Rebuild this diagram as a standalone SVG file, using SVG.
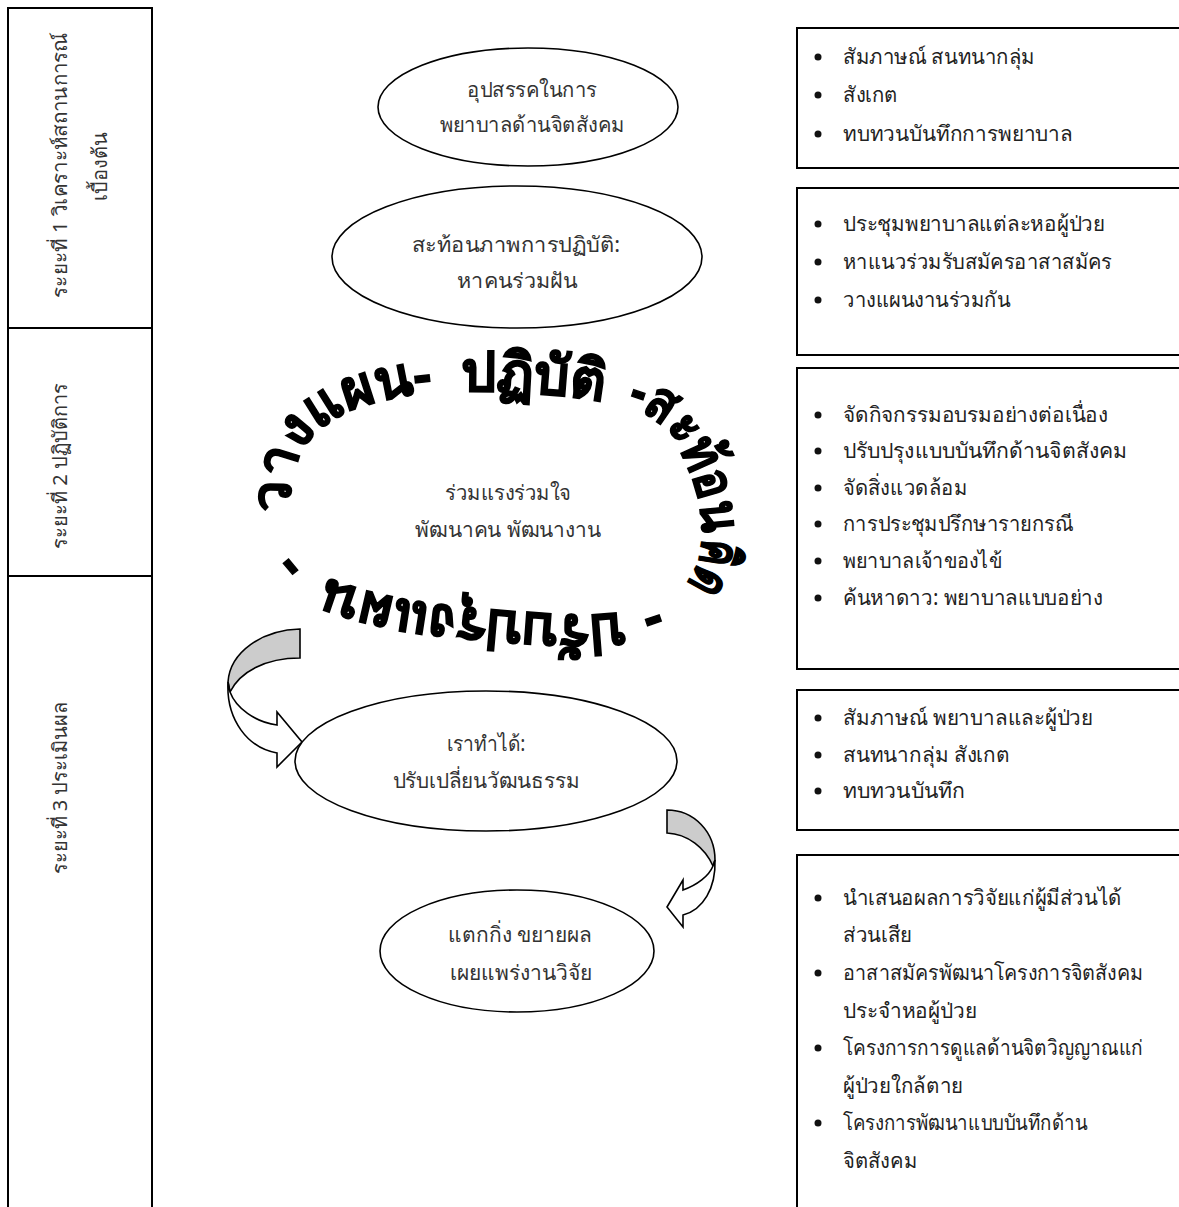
<svg xmlns="http://www.w3.org/2000/svg" width="1179" height="1207" viewBox="0 0 1179 1207">
<style>
.ln{fill:none;stroke:#000;stroke-width:2}
.el{fill:#fff;stroke:#000;stroke-width:1.6}
.t{font-family:"Noto Sans","DejaVu Sans",sans-serif;font-size:21px;fill:#222}
.ec{font-family:"Noto Sans","DejaVu Sans",sans-serif;font-size:21px;fill:#333;text-anchor:middle}
.ph{font-family:"Noto Sans","DejaVu Sans",sans-serif;font-size:20px;fill:#333;text-anchor:middle}
.wa{font-family:"Noto Sans","DejaVu Sans",sans-serif;font-size:55px;font-weight:bold;fill:#000;stroke:#000;stroke-width:1.4;text-anchor:middle}
.bu{fill:#111}
.ar{stroke:#000;stroke-width:1.6;stroke-linejoin:miter}
</style>
<defs>
<path id="loop" d="M291,512 C289,490 292,470 300,453 C312,432 332,418 355,409 C380,400 410,394 440,392 C470,390 500,391 530,393 C570,395 610,400 640,411 C662,421 676,438 685,460 C695,482 702,505 702,530 C702,553 698,572 683,587 C666,602 645,609 620,613 C593,616 566,616 540,614 C500,611 460,607 420,602 C385,597 357,590 332,580 C314,572 300,558 292,542 L286,518"/>
</defs>
<rect width="1179" height="1207" fill="#fff"/>

<g id="phases">
<path class="ln" d="M8,1215 L8,8 L152,8 L152,1215 M8,328 L152,328 M8,576 L152,576"/>
<text class="ph" transform="translate(67,165) rotate(-90)" textLength="266" lengthAdjust="spacingAndGlyphs">ระยะที่ 1  วิเคราะห์สถานการณ์</text>
<text class="ph" transform="translate(107,166) rotate(-90)">เบื้องต้น</text>
<text class="ph" transform="translate(67,466) rotate(-90)">ระยะที่ 2  ปฏิบัติการ</text>
<text class="ph" transform="translate(67,788) rotate(-90)">ระยะที่ 3  ประเมินผล</text>
</g>

<g id="connectors">
<path class="ar" fill="#cccccc" d="M300,629 C262,630 230,652 228,682 L230,692 C240,672 265,658 300,658 Z"/>
<path class="ar" fill="#fff" d="M228,682 C226,720 248,748 277,753 L277,767 L302,742 L277,712 L277,725 C255,722 236,708 230,692 Z"/>
<path class="ar" fill="#cccccc" d="M667,810 C694,810 715,832 715,860 L713,866 C705,848 688,834 667,833 Z"/>
<path class="ar" fill="#fff" d="M715,860 C716,888 703,910 683,915 L683,927 L667,907 L683,880 L683,890 C697,885 709,876 713,866 Z"/>
</g>

<g id="node-obstacle">
<ellipse class="el" cx="528" cy="107" rx="150" ry="59"/>
<text class="ec" x="532" y="97" textLength="130" lengthAdjust="spacingAndGlyphs">อุปสรรคในการ</text>
<text class="ec" x="532" y="132" textLength="185" lengthAdjust="spacingAndGlyphs">พยาบาลด้านจิตสังคม</text>
</g>

<g id="node-reflect">
<ellipse class="el" cx="517" cy="257" rx="185" ry="71"/>
<text class="ec" x="516" y="252" textLength="208" lengthAdjust="spacingAndGlyphs">สะท้อนภาพการปฏิบัติ:</text>
<text class="ec" x="517" y="288" textLength="120" lengthAdjust="spacingAndGlyphs">หาคนร่วมฝัน</text>
</g>

<g id="node-cycle">
<text class="ec" x="508" y="500" textLength="126" lengthAdjust="spacingAndGlyphs">ร่วมแรงร่วมใจ</text>
<text class="ec" x="508" y="537" textLength="186" lengthAdjust="spacingAndGlyphs">พัฒนาคน พัฒนางาน</text>
<text class="wa"><textPath href="#loop" startOffset="106">วางแผน-</textPath></text>
<text class="wa"><textPath href="#loop" startOffset="312">ปฏิบัติ</textPath></text>
<text class="wa"><textPath href="#loop" startOffset="486" textLength="158" lengthAdjust="spacingAndGlyphs">-สะท้อน</textPath></text>
<text class="wa"><textPath href="#loop" startOffset="594" textLength="50" lengthAdjust="spacingAndGlyphs">คิด</textPath></text>
<text class="wa"><textPath href="#loop" startOffset="663">-</textPath></text>
<text class="wa"><textPath href="#loop" startOffset="838" textLength="302" lengthAdjust="spacingAndGlyphs">ปรับปรุงแผน</textPath></text>
<text class="wa"><textPath href="#loop" startOffset="1022">-</textPath></text>
</g>

<g id="node-change">
<ellipse class="el" cx="486" cy="761" rx="191" ry="70"/>
<text class="ec" x="486" y="751" textLength="79" lengthAdjust="spacingAndGlyphs">เราทำได้:</text>
<text class="ec" x="486" y="788" textLength="187" lengthAdjust="spacingAndGlyphs">ปรับเปลี่ยนวัฒนธรรม</text>
</g>

<g id="node-expand">
<ellipse class="el" cx="517" cy="951" rx="137" ry="61"/>
<text class="ec" x="520" y="942" textLength="144" lengthAdjust="spacingAndGlyphs">แตกกิ่ง ขยายผล</text>
<text class="ec" x="521" y="980" textLength="142" lengthAdjust="spacingAndGlyphs">เผยแพร่งานวิจัย</text>
</g>

<g id="box-1">
<rect class="ln" x="797" y="28" width="400" height="140"/>
<circle class="bu" cx="818" cy="57" r="3.5"/><text class="t" x="843" y="64" textLength="192" lengthAdjust="spacingAndGlyphs">สัมภาษณ์ สนทนากลุ่ม</text>
<circle class="bu" cx="818" cy="95" r="3.5"/><text class="t" x="843" y="102" textLength="55" lengthAdjust="spacingAndGlyphs">สังเกต</text>
<circle class="bu" cx="818" cy="134" r="3.5"/><text class="t" x="843" y="141" textLength="230" lengthAdjust="spacingAndGlyphs">ทบทวนบันทึกการพยาบาล</text>
</g>

<g id="box-2">
<rect class="ln" x="797" y="188" width="400" height="167"/>
<circle class="bu" cx="818" cy="224" r="3.5"/><text class="t" x="843" y="231" textLength="262" lengthAdjust="spacingAndGlyphs">ประชุมพยาบาลแต่ละหอผู้ป่วย</text>
<circle class="bu" cx="818" cy="262" r="3.5"/><text class="t" x="843" y="269" textLength="269" lengthAdjust="spacingAndGlyphs">หาแนวร่วมรับสมัครอาสาสมัคร</text>
<circle class="bu" cx="818" cy="300" r="3.5"/><text class="t" x="843" y="307" textLength="167" lengthAdjust="spacingAndGlyphs">วางแผนงานร่วมกัน</text>
</g>

<g id="box-3">
<rect class="ln" x="797" y="368" width="400" height="301"/>
<circle class="bu" cx="818" cy="415" r="3.5"/><text class="t" x="843" y="422" textLength="265" lengthAdjust="spacingAndGlyphs">จัดกิจกรรมอบรมอย่างต่อเนื่อง</text>
<circle class="bu" cx="818" cy="451" r="3.5"/><text class="t" x="843" y="458" textLength="284" lengthAdjust="spacingAndGlyphs">ปรับปรุงแบบบันทึกด้านจิตสังคม</text>
<circle class="bu" cx="818" cy="488" r="3.5"/><text class="t" x="843" y="495" textLength="124" lengthAdjust="spacingAndGlyphs">จัดสิ่งแวดล้อม</text>
<circle class="bu" cx="818" cy="524" r="3.5"/><text class="t" x="843" y="531" textLength="230" lengthAdjust="spacingAndGlyphs">การประชุมปรึกษารายกรณี</text>
<circle class="bu" cx="818" cy="561" r="3.5"/><text class="t" x="843" y="568" textLength="159" lengthAdjust="spacingAndGlyphs">พยาบาลเจ้าของไข้</text>
<circle class="bu" cx="818" cy="598" r="3.5"/><text class="t" x="843" y="605" textLength="260" lengthAdjust="spacingAndGlyphs">ค้นหาดาว: พยาบาลแบบอย่าง</text>
</g>

<g id="box-4">
<rect class="ln" x="797" y="690" width="400" height="140"/>
<circle class="bu" cx="818" cy="718" r="3.5"/><text class="t" x="843" y="725" textLength="250" lengthAdjust="spacingAndGlyphs">สัมภาษณ์ พยาบาลและผู้ป่วย</text>
<circle class="bu" cx="818" cy="755" r="3.5"/><text class="t" x="843" y="762" textLength="167" lengthAdjust="spacingAndGlyphs">สนทนากลุ่ม สังเกต</text>
<circle class="bu" cx="818" cy="791" r="3.5"/><text class="t" x="843" y="798" textLength="122" lengthAdjust="spacingAndGlyphs">ทบทวนบันทึก</text>
</g>

<g id="box-5">
<rect class="ln" x="797" y="855" width="400" height="370"/>
<circle class="bu" cx="818" cy="898" r="3.5"/><text class="t" x="843" y="905" textLength="279" lengthAdjust="spacingAndGlyphs">นำเสนอผลการวิจัยแก่ผู้มีส่วนได้</text>
<text class="t" x="843" y="942" textLength="69" lengthAdjust="spacingAndGlyphs">ส่วนเสีย</text>
<circle class="bu" cx="818" cy="973" r="3.5"/><text class="t" x="843" y="980" textLength="300" lengthAdjust="spacingAndGlyphs">อาสาสมัครพัฒนาโครงการจิตสังคม</text>
<text class="t" x="843" y="1018" textLength="134" lengthAdjust="spacingAndGlyphs">ประจำหอผู้ป่วย</text>
<circle class="bu" cx="818" cy="1048" r="3.5"/><text class="t" x="843" y="1055" textLength="300" lengthAdjust="spacingAndGlyphs">โครงการการดูแลด้านจิตวิญญาณแก่</text>
<text class="t" x="843" y="1093" textLength="120" lengthAdjust="spacingAndGlyphs">ผู้ป่วยใกล้ตาย</text>
<circle class="bu" cx="818" cy="1123" r="3.5"/><text class="t" x="843" y="1130" textLength="244" lengthAdjust="spacingAndGlyphs">โครงการพัฒนาแบบบันทึกด้าน</text>
<text class="t" x="843" y="1168" textLength="74" lengthAdjust="spacingAndGlyphs">จิตสังคม</text>
</g>
</svg>
